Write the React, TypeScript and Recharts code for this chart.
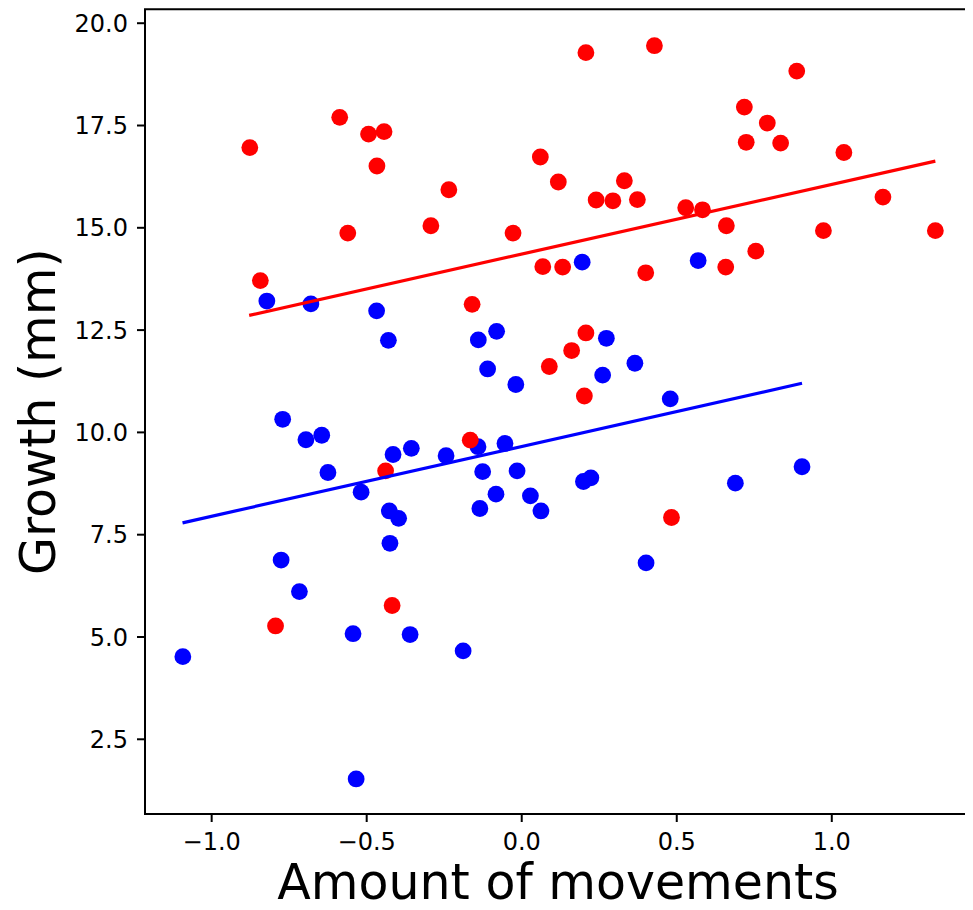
import { ScatterChart, Scatter, XAxis, YAxis, ReferenceArea } from "recharts";

// group 1 (red)
const redX = [
  -0.877, -0.843, -0.587, -0.494, -0.444, -0.467, -0.561, -0.235, -0.293, -0.028,
  0.06, 0.118, 0.207, 0.428, 0.887, 0.718, 0.792, 0.724, 0.835, 1.039,
  0.331, 0.24, 0.294, 0.373, 0.529, 0.583, 1.165, 0.66, 0.973, 1.334,
  0.068, 0.132, 0.4, 0.658, 0.755, -0.16, 0.207, 0.161, 0.089, 0.202,
  -0.166, -0.439, -0.418, -0.794, 0.483,
];
const redY = [
  16.96, 13.71, 17.7, 17.29, 17.35, 16.51, 14.87, 15.93, 15.05, 14.87,
  16.73, 16.12, 19.28, 19.45, 18.83, 17.95, 17.56, 17.09, 17.07, 16.84,
  16.15, 15.68, 15.66, 15.69, 15.49, 15.44, 15.75, 15.05, 14.93, 14.93,
  14.05, 14.04, 13.9, 14.04, 14.43, 13.13, 12.43, 12.0, 11.61, 10.89,
  9.81, 9.06, 5.77, 5.27, 7.92,
];

// group 2 (blue)
const blueX = [
  -0.822, -0.68, -0.468, -0.43, -0.14, -0.081, -0.11, -0.019, -0.771, -0.696,
  -0.645, -0.625, -0.415, -0.356, -0.244, -0.141, -0.054, -0.126, -0.015, -0.518,
  -0.083, 0.028, 0.062, -0.135, -0.427, -0.397, -0.425, -0.776, -0.717, -0.544,
  -0.36, -0.189, -1.093, -0.534, 0.195, 0.569, 0.273, 0.365, 0.261, 0.479,
  0.199, 0.223, 0.689, 0.904, 0.401,
];
const blueY = [
  13.21, 13.14, 12.97, 12.25, 12.26, 12.47, 11.55, 11.17, 10.32, 9.82,
  9.93, 9.02, 9.46, 9.61, 9.43, 9.65, 9.73, 9.04, 9.06, 8.54,
  8.49, 8.45, 8.08, 8.14, 8.08, 7.9, 7.29, 6.88, 6.11, 5.08,
  5.06, 4.66, 4.52, 1.53, 14.16, 14.2, 12.3, 11.69, 11.4, 10.82,
  8.8, 8.89, 8.76, 9.16, 6.81,
];

// fitted lines (end points)
const redFitX = [-0.879, 1.334];
const redFitY = [12.86, 16.63];
const blueFitX = [-1.094, 0.904];
const blueFitY = [7.79, 11.2];

const X_TICKS = [-1.0, -0.5, 0.0, 0.5, 1.0];
const Y_TICKS = [2.5, 5.0, 7.5, 10.0, 12.5, 15.0, 17.5, 20.0];
const X_DOMAIN = [-1.215, 1.449];
const Y_DOMAIN = [0.674, 20.34];

const zip = (xs: number[], ys: number[]) => xs.map((x, i) => ({ x, y: ys[i] }));

const red = zip(redX, redY);
const blue = zip(blueX, blueY);
const redFit = zip(redFitX, redFitY);
const blueFit = zip(blueFitX, blueFitY);

const FONT = "'DejaVu Sans', sans-serif";
const fmt = (v: number) => v.toFixed(1).replace("-", "\u2212");
const tickStyle = { fontSize: 24, fill: "#000", fontFamily: FONT };
const axisLine = { stroke: "#000", strokeWidth: 2 };
const tickLine = { stroke: "#000", strokeWidth: 2 };

const dot = (color: string) => (props: any) =>
  <circle cx={props.cx} cy={props.cy} r={8.4} fill={color} />;
const noDot = () => <g />;

export default function App() {
  return (
    <div style={{ width: 965, height: 902, background: "#fff" }}>
      <ScatterChart
        width={965}
        height={902}
        margin={{ top: 1.3, right: 2, bottom: 0, left: 0 }}
      >
        <XAxis
          type="number"
          dataKey="x"
          domain={X_DOMAIN}
          ticks={X_TICKS}
          tickFormatter={fmt}
          allowDataOverflow
          height={96}
          tick={tickStyle}
          tickSize={8}
          tickMargin={11}
          axisLine={axisLine}
          tickLine={tickLine}
          label={{
            content: ({ viewBox }: any) => (
              <text
                x={viewBox.x + viewBox.width / 2}
                y={891}
                textAnchor="middle"
                fontSize={49}
                fontFamily={FONT}
                fill="#000"
              >
                Amount of movements
              </text>
            ),
          }}
        />
        <YAxis
          type="number"
          dataKey="y"
          domain={Y_DOMAIN}
          ticks={Y_TICKS}
          tickFormatter={fmt}
          allowDataOverflow
          width={137}
          tick={tickStyle}
          tickSize={8}
          tickMargin={9}
          axisLine={axisLine}
          tickLine={tickLine}
          label={{
            content: ({ viewBox }: any) => {
              const cy = viewBox.y + viewBox.height / 2;
              return (
                <text
                  x={47}
                  y={cy}
                  transform={`rotate(-90, 47, ${cy})`}
                  textAnchor="middle"
                  fontSize={49}
                  fontFamily={FONT}
                  fill="#000"
                >
                  Growth (mm)
                </text>
              );
            },
          }}
        />
        <Scatter data={blue} shape={dot("#0000ff")} isAnimationActive={false} />
        <Scatter data={red} shape={dot("#ff0000")} isAnimationActive={false} />
        <Scatter
          data={blueFit}
          shape={noDot}
          line={{ stroke: "#0000ff", strokeWidth: 3.2 }}
          isAnimationActive={false}
        />
        <Scatter
          data={redFit}
          shape={noDot}
          line={{ stroke: "#ff0000", strokeWidth: 3.2 }}
          isAnimationActive={false}
        />
        {/* frame around the plot area */}
        <ReferenceArea
          x1={X_DOMAIN[0]}
          x2={X_DOMAIN[1]}
          y1={Y_DOMAIN[0]}
          y2={Y_DOMAIN[1]}
          fill="none"
          fillOpacity={0}
          stroke="#000"
          strokeWidth={2}
          strokeOpacity={1}
          ifOverflow="visible"
        />
      </ScatterChart>
    </div>
  );
}
